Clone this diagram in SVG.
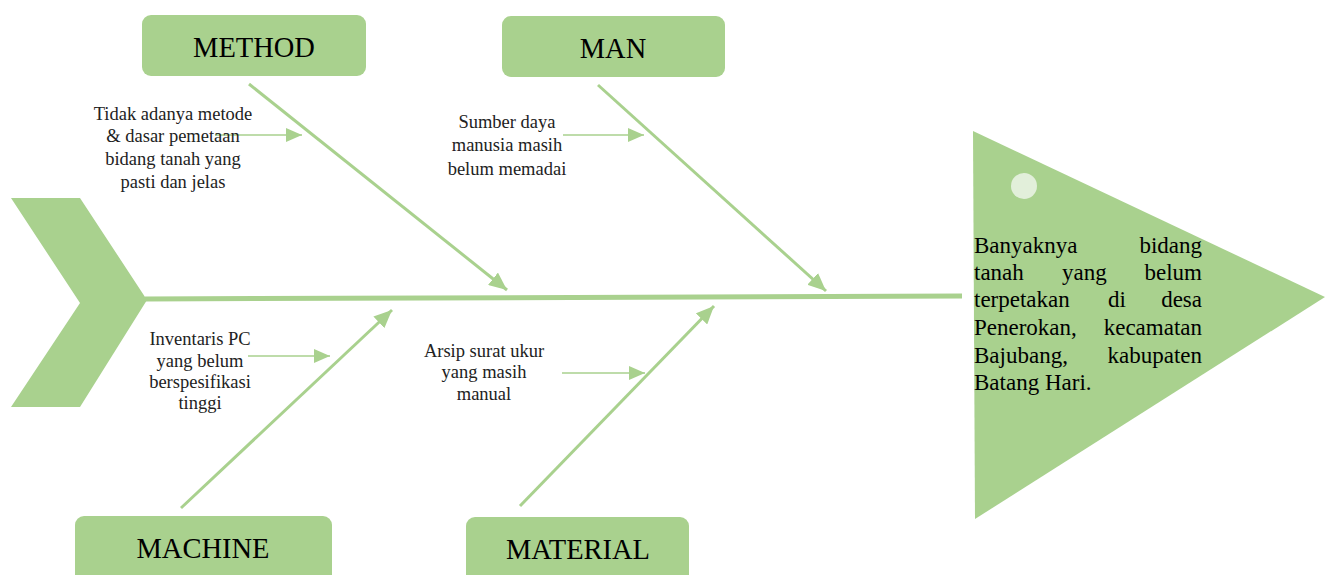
<svg xmlns="http://www.w3.org/2000/svg" width="1333" height="575" viewBox="0 0 1333 575">
<style>
.box{fill:#a9d18e}
.cat{font-family:"Liberation Serif","Times New Roman",serif;font-size:28.5px;fill:#000;text-anchor:middle}
.lbl{font-family:"Liberation Serif","Times New Roman",serif;font-size:18.5px;fill:#222;text-anchor:middle}
.eff{font-family:"Liberation Serif","Times New Roman",serif;font-size:23px;fill:#000}
.bone{stroke:#a9d18e;stroke-width:3;fill:none}
.sub{stroke:#a9d18e;stroke-width:1.3;fill:none}
.spine{stroke:#a9d18e;stroke-width:5;fill:none}
</style>
<defs>
<marker id="big" markerUnits="userSpaceOnUse" markerWidth="20" markerHeight="16" refX="18" refY="8" orient="auto">
<path d="M0,0 L18,8 L0,16 Z" fill="#a9d18e"/>
</marker>
<marker id="small" markerUnits="userSpaceOnUse" markerWidth="18" markerHeight="14" refX="16" refY="7" orient="auto">
<path d="M0,0 L16,7 L0,14 Z" fill="#a9d18e"/>
</marker>
<clipPath id="cl"><rect x="0" y="0" width="1333" height="413"/></clipPath>
</defs>
<g id="tail"><polygon points="11,198 80,198 147,300 80,407 11,407 80,303" fill="#a9d18e"/></g>
<g id="connectors">
<line class="spine" x1="145" y1="299" x2="962" y2="296"/>
<line class="bone" x1="249" y1="84" x2="507" y2="290" marker-end="url(#big)"/>
<line class="bone" x1="598" y1="85" x2="826" y2="291" marker-end="url(#big)"/>
<line class="bone" x1="181" y1="508" x2="392" y2="310" marker-end="url(#big)"/>
<line class="bone" x1="520" y1="506" x2="714" y2="306" marker-end="url(#big)"/>
<line class="sub" x1="215" y1="135" x2="302" y2="135" marker-end="url(#small)"/>
<line class="sub" x1="563" y1="135" x2="644" y2="135" marker-end="url(#small)"/>
<line class="sub" x1="248" y1="356" x2="330" y2="356" marker-end="url(#small)"/>
<line class="sub" x1="562" y1="373" x2="645" y2="373" marker-end="url(#small)"/>
</g>
<g id="method">
<rect class="box" x="142" y="15" width="224" height="61" rx="9"/>
<text class="cat" x="254" y="57">METHOD</text>
</g>
<g id="man">
<rect class="box" x="502" y="16" width="223" height="61" rx="9"/>
<text class="cat" x="613" y="58">MAN</text>
</g>
<g id="machine">
<rect class="box" x="75" y="516" width="257" height="70" rx="9"/>
<text class="cat" x="203" y="558">MACHINE</text>
</g>
<g id="material">
<rect class="box" x="466" y="517" width="223" height="70" rx="9"/>
<text class="cat" x="578" y="559">MATERIAL</text>
</g>
<g id="cause-method">
<text class="lbl" x="173" y="120">Tidak adanya metode</text>
<text class="lbl" x="173" y="142">&amp; dasar pemetaan</text>
<text class="lbl" x="173" y="165">bidang tanah yang</text>
<text class="lbl" x="173" y="188">pasti dan jelas</text>
</g>
<g id="cause-man">
<text class="lbl" x="507" y="128">Sumber daya</text>
<text class="lbl" x="507" y="151">manusia masih</text>
<text class="lbl" x="507" y="175">belum memadai</text>
</g>
<g id="cause-machine" clip-path="url(#cl)">
<text class="lbl" x="200" y="345">Inventaris PC</text>
<text class="lbl" x="200" y="367">yang belum</text>
<text class="lbl" x="200" y="388">berspesifikasi</text>
<text class="lbl" x="200" y="409">tinggi</text>
</g>
<g id="cause-material">
<text class="lbl" x="484" y="357">Arsip surat ukur</text>
<text class="lbl" x="484" y="378">yang masih</text>
<text class="lbl" x="484" y="400">manual</text>
</g>
<g id="effect">
<polygon points="973,131 1325,297 975,519" fill="#a9d18e"/>
<circle cx="1024" cy="186" r="13" fill="#e2efda"/>
<text class="eff" x="974" y="253">Banyaknya</text>
<text class="eff" x="1202" y="253" text-anchor="end">bidang</text>
<text class="eff" x="974" y="280">tanah</text>
<text class="eff" x="1062" y="280">yang</text>
<text class="eff" x="1202" y="280" text-anchor="end">belum</text>
<text class="eff" x="974" y="307">terpetakan</text>
<text class="eff" x="1108" y="307">di</text>
<text class="eff" x="1202" y="307" text-anchor="end">desa</text>
<text class="eff" x="974" y="335">Penerokan,</text>
<text class="eff" x="1202" y="335" text-anchor="end">kecamatan</text>
<text class="eff" x="974" y="363">Bajubang,</text>
<text class="eff" x="1202" y="363" text-anchor="end">kabupaten</text>
<text class="eff" x="974" y="390">Batang Hari.</text>
</g>
</svg>
